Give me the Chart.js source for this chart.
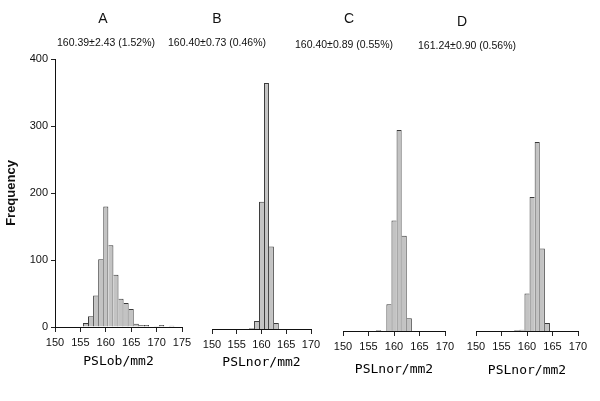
<!DOCTYPE html>
<html>
<head>
<meta charset="utf-8">
<script src="https://cdn.jsdelivr.net/npm/chart.js@4.4.1/dist/chart.umd.min.js"></script>
<style>
  html, body { margin: 0; padding: 0; background: #fff; }
  #wrap { position: relative; width: 600px; height: 401px; }
  #wrap canvas { position: absolute; left: 0; top: 0; }
</style>
</head>
<body>
<div id="wrap">
  <canvas id="chartA" width="600" height="401"></canvas>
  <canvas id="chartB" width="600" height="401"></canvas>
  <canvas id="chartC" width="600" height="401"></canvas>
  <canvas id="chartD" width="600" height="401"></canvas>
</div>
<script>
// Histogram bins (1-unit bins centred on the integer) and their counts
const binsA = [156, 157, 158, 159, 160, 161, 162, 163, 164, 165, 166, 167, 168, 169, 170, 171, 172, 173];
const countsA = [6, 16, 47, 101, 180, 122, 78, 42, 36, 27, 5, 3, 3, 0, 1, 3, 0, 2];

const binsB = [158, 159, 160, 161, 162, 163];
const countsB = [1, 12, 190, 367, 123, 9];

const binsC = [157, 158, 159, 160, 161, 162, 163];
const countsC = [1, 0, 40, 165, 300, 142, 19];

const binsD = [158, 159, 160, 161, 162, 163, 164];
const countsD = [1, 2, 56, 200, 282, 123, 12];

// Panel labels
const letters = ['A', 'B', 'C', 'D'];
const stats = [
  '160.39\u00B12.43 (1.52%)',
  '160.40\u00B10.73 (0.46%)',
  '160.40\u00B10.89 (0.55%)',
  '161.24\u00B10.90 (0.56%)'
];
const xTitles = ['PSLob/mm2', 'PSLnor/mm2', 'PSLnor/mm2', 'PSLnor/mm2'];
const xMin = 150;
const xMaxes = [175, 170, 170, 170];
const yMax = 400;

const sansFont = '"Liberation Sans", Arial, sans-serif';
const monoFont = '"DejaVu Sans Mono", monospace';

// Where each panel sits on the page
const boxes = [
  { left: 55, right: 182, bottom: 327, axisHeight: 42, letterX: 103, letterY: 19, statX: 106, statY: 43 },
  { left: 212, right: 311, bottom: 329, axisHeight: 41, letterX: 217, letterY: 19, statX: 217, statY: 43 },
  { left: 343, right: 445, bottom: 331, axisHeight: 46, letterX: 349, letterY: 19, statX: 344, statY: 45 },
  { left: 476, right: 578, bottom: 331, axisHeight: 47, letterX: 462, letterY: 22, statX: 467, statY: 46 }
];
const plotHeight = 268;

// Draws the panel letter and the mean +- sd line above each histogram
const panelText = {
  id: 'panelText',
  afterDraw(chart, args, opts) {
    const ctx = chart.ctx;
    ctx.save();
    ctx.fillStyle = '#111';
    ctx.textAlign = 'center';
    ctx.textBaseline = 'middle';
    ctx.font = '14px ' + sansFont;
    ctx.fillText(opts.letter, opts.letterX, opts.letterY);
    ctx.font = '10.5px ' + sansFont;
    ctx.fillText(opts.stat, opts.statX, opts.statY);
    ctx.restore();
  }
};

const makePanel = function (canvasId, idx, bins, counts, showY) {
  const box = boxes[idx];
  const top = box.bottom - plotHeight;

  // single shared line between neighbouring bars
  const borderFor = function (c) {
    const i = c.dataIndex;
    return {
      top: 1,
      bottom: 0,
      left: i === 0 || counts[i] >= counts[i - 1] ? 1 : 0,
      right: i === counts.length - 1 || counts[i] > counts[i + 1] ? 1 : 0
    };
  };

  return new Chart(document.getElementById(canvasId), {
    type: 'bar',
    data: {
      datasets: [{
        data: bins.map((b, i) => ({ x: b, y: counts[i] })),
        backgroundColor: '#c3c3c3',
        borderColor: '#3a3a3a',
        borderWidth: borderFor,
        borderSkipped: 'start',
        barPercentage: 1,
        categoryPercentage: 1,
        inflateAmount: 0
      }]
    },
    options: {
      responsive: false,
      animation: false,
      layout: {
        padding: {
          left: showY ? 4 : box.left,
          right: 600 - box.right,
          top: top,
          bottom: 401 - box.bottom - box.axisHeight
        }
      },
      plugins: {
        legend: { display: false },
        tooltip: { enabled: false },
        panelText: {
          letter: letters[idx], stat: stats[idx],
          letterX: box.letterX, letterY: box.letterY,
          statX: box.statX, statY: box.statY
        }
      },
      scales: {
        x: {
          type: 'linear',
          min: xMin,
          max: xMaxes[idx],
          offset: false,
          ticks: {
            stepSize: 5,
            color: '#111',
            padding: 4,
            maxRotation: 0,
            autoSkip: false,
            font: { family: sansFont, size: 11 }
          },
          grid: { offset: false, drawOnChartArea: false, tickLength: 5, color: '#222' },
          border: { color: '#111', width: 1 },
          title: {
            display: true,
            text: xTitles[idx],
            color: '#000',
            padding: 0,
            font: { family: monoFont, size: 13 }
          },
          afterFit: function (s) { s.height = box.axisHeight; }
        },
        y: {
          display: showY,
          min: 0,
          max: yMax,
          ticks: {
            stepSize: 100,
            color: '#111',
            padding: 3,
            font: { family: sansFont, size: 11 }
          },
          grid: { drawOnChartArea: false, tickLength: 4, color: '#222' },
          border: { color: '#111', width: 1 },
          title: {
            display: true,
            text: 'Frequency',
            color: '#111',
            padding: 0,
            font: { family: sansFont, size: 13, weight: 'bold' }
          },
          afterFit: function (s) { s.width = showY ? box.left - 4 : 0; }
        }
      }
    },
    plugins: [panelText]
  });
};

makePanel('chartA', 0, binsA, countsA, true);
makePanel('chartB', 1, binsB, countsB, false);
makePanel('chartC', 2, binsC, countsC, false);
makePanel('chartD', 3, binsD, countsD, false);
</script>
</body>
</html>
